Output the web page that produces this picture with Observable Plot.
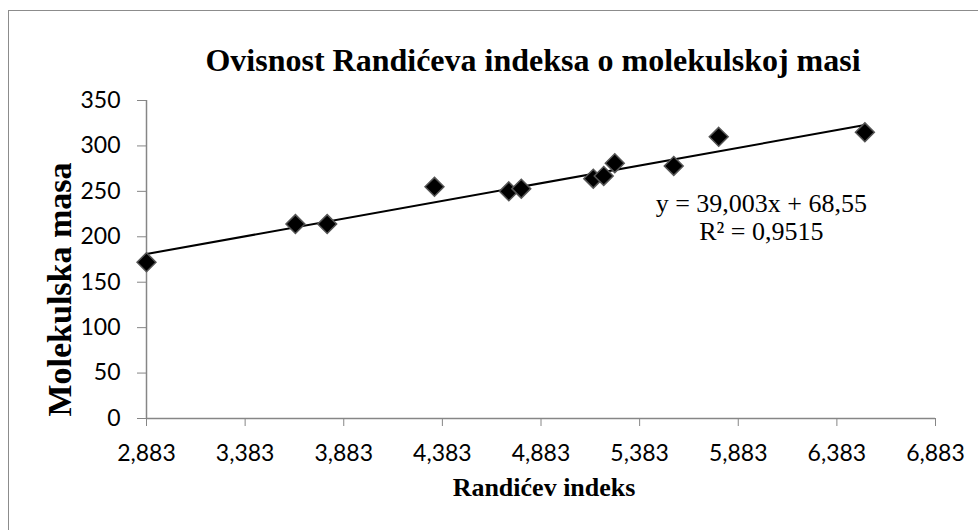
<!DOCTYPE html>
<html>
<head>
<meta charset="utf-8">
<script src="https://cdn.jsdelivr.net/npm/d3@7"></script>
<script src="https://cdn.jsdelivr.net/npm/@observablehq/plot@0.6"></script>
<style>
  html, body { margin: 0; padding: 0; background: #fff; overflow: hidden; }
  #wrap { position: relative; width: 978px; height: 530px; }
  #border { position: absolute; left: 8px; top: 10px; width: 1000px; height: 560px; border: 1.5px solid #8c8c8c; box-sizing: border-box; pointer-events: none; }
  #chart { position: absolute; left: 0; top: 0; }
</style>
</head>
<body>
<div id="wrap"><div id="border"></div><div id="chart"></div></div>
<script>
// Data
const randicIndex = [2.883, 3.638, 3.799, 4.343, 4.72, 4.783, 5.148, 5.201, 5.257, 5.556, 5.784, 6.525];
const molarMass   = [172, 214, 214, 255, 250, 253, 264, 267, 281, 278, 310, 315];
const trendX = [2.883, 6.525];
const trendY = [181.0, 323.0];
const xTicks = [2.883, 3.383, 3.883, 4.383, 4.883, 5.383, 5.883, 6.383, 6.883];
const yTicks = [0, 50, 100, 150, 200, 250, 300, 350];
const titleText = "Ovisnost Randićeva indeksa o molekulskoj masi";
const xLabel = "Randićev indeks";
const yLabel = "Molekulska masa";
const equationText = "y = 39,003x + 68,55\nR² = 0,9515";
const equationPos = {x: 6.0, y: 222};

const points = randicIndex.map((x, i) => ({x, y: molarMass[i]}));
const trend = trendX.map((x, i) => ({x, y: trendY[i]}));

const axisColor = "#868686";
const tickFont = "Lato, 'Open Sans', sans-serif";
const serif = "'Liberation Serif', 'Times New Roman', serif";

const chart = Plot.plot({
  width: 978,
  height: 530,
  marginLeft: 146,
  marginRight: 43,
  marginTop: 100,
  marginBottom: 112,
  style: {background: "transparent", overflow: "visible"},
  x: {domain: [2.883, 6.883], ticks: xTicks},
  y: {domain: [0, 350], ticks: yTicks},
  marks: [
    Plot.axisY({
      ticks: yTicks, tickSize: 9, tickPadding: 17, stroke: axisColor, label: null,
      fontSize: 23, fontFamily: tickFont, fill: "#000"
    }),
    Plot.axisX({
      ticks: xTicks, tickSize: 8, tickPadding: 18, stroke: axisColor, label: null,
      fontSize: 23, fontFamily: tickFont, fill: "#000",
      tickFormat: d => d.toFixed(3).replace(".", ",")
    }),
    Plot.ruleX([2.883], {stroke: axisColor, strokeWidth: 1.5}),
    Plot.ruleY([0], {stroke: axisColor, strokeWidth: 1.5}),
    Plot.line(trend, {x: "x", y: "y", stroke: "#000", strokeWidth: 2}),
    Plot.dot(points, {x: "x", y: "y", symbol: "diamond2", r: 8.5, fill: "#000", stroke: "#555", strokeWidth: 1.5}),
    Plot.text([equationText], {
      x: () => equationPos.x, y: () => equationPos.y, text: d => d,
      fontFamily: serif, fontSize: 26, fill: "#000", textAnchor: "middle", lineHeight: 1.08
    }),
    Plot.text([titleText], {
      frameAnchor: "top", text: d => d, dx: -8, dy: -52,
      fontFamily: serif, fontWeight: "bold", fontSize: 32, fill: "#000"
    }),
    Plot.text([xLabel], {
      frameAnchor: "bottom", text: d => d, dx: 3, dy: 77,
      fontFamily: serif, fontWeight: "bold", fontSize: 26, fill: "#000"
    }),
    Plot.text([yLabel], {
      frameAnchor: "left", text: d => d, dx: -86, dy: 30, rotate: -90, textAnchor: "middle",
      fontFamily: serif, fontWeight: "bold", fontSize: 34, fill: "#000"
    })
  ]
});
document.getElementById("chart").append(chart);
</script>
</body>
</html>
